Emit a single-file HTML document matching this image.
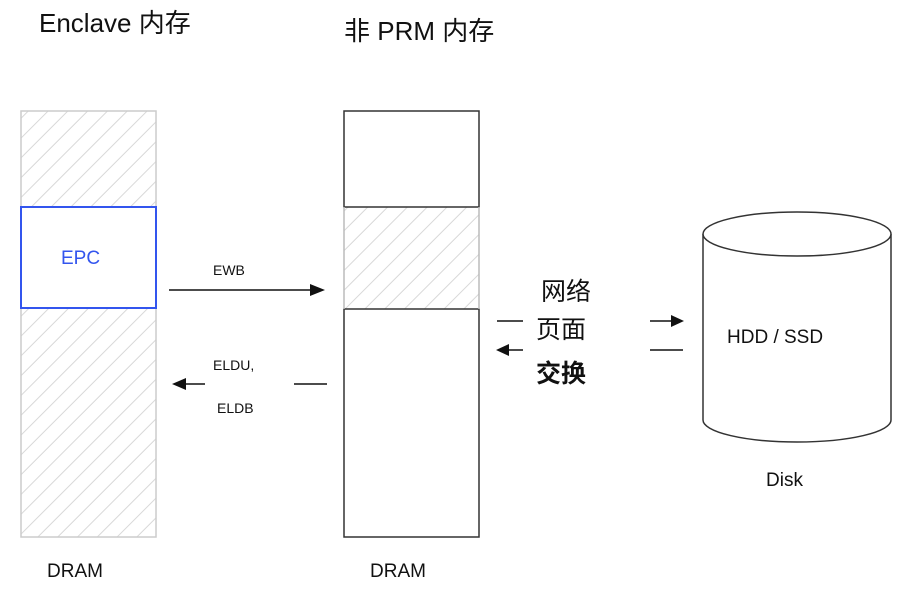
<!DOCTYPE html>
<html><head><meta charset="utf-8"><style>
html,body{margin:0;padding:0;background:#fff;}
svg{display:block;}
text{font-family:"Liberation Sans","Noto Sans CJK SC",sans-serif;fill:#111;}
</style></head><body>
<svg width="907" height="593" viewBox="0 0 907 593" xmlns="http://www.w3.org/2000/svg">
<defs>
<pattern id="h" patternUnits="userSpaceOnUse" width="14" height="14" patternTransform="rotate(45)">
<line x1="0" y1="0" x2="0" y2="14" stroke="#d8d8d8" stroke-width="2"/>
</pattern>
</defs>
<text x="39" y="32" font-size="26">Enclave  内存</text>
<text x="344" y="40" font-size="26">非 PRM 内存</text>

<rect x="21" y="111" width="135" height="426" fill="url(#h)" stroke="#cccccc" stroke-width="1.5"/>
<rect x="21" y="207" width="135" height="101" fill="#fff" stroke="#3355ee" stroke-width="2"/>
<text x="61" y="264" font-size="19" style="fill:#3355ee">EPC</text>

<rect x="344" y="207" width="135" height="102" fill="url(#h)" stroke="none"/>
<rect x="344" y="111" width="135" height="96" fill="#fff" stroke="#333" stroke-width="1.5"/>
<rect x="344" y="309" width="135" height="228" fill="#fff" stroke="#333" stroke-width="1.5"/>
<line x1="344" y1="207" x2="344" y2="309" stroke="#bbb" stroke-width="1.5"/>
<line x1="479" y1="207" x2="479" y2="309" stroke="#bbb" stroke-width="1.5"/>

<text x="213" y="275" font-size="14">EWB</text>
<line x1="169" y1="290" x2="312" y2="290" stroke="#111" stroke-width="1.5"/>
<polygon points="325,290 310,284 310,296" fill="#111"/>
<text x="213" y="370" font-size="14">ELDU,</text>
<text x="217" y="413" font-size="14">ELDB</text>
<polygon points="172,384 186,378 186,390" fill="#111"/>
<line x1="185" y1="384" x2="205" y2="384" stroke="#111" stroke-width="1.5"/>
<line x1="294" y1="384" x2="327" y2="384" stroke="#111" stroke-width="1.5"/>

<text x="541" y="300" font-size="25">网络</text>
<text x="536" y="338" font-size="25">页面</text>
<text x="536" y="382" font-size="25" font-weight="bold">交换</text>
<line x1="497" y1="321" x2="523" y2="321" stroke="#111" stroke-width="1.5"/>
<polygon points="496,350 509,344 509,356" fill="#111"/>
<line x1="508" y1="350" x2="523" y2="350" stroke="#111" stroke-width="1.5"/>
<line x1="650" y1="321" x2="672" y2="321" stroke="#111" stroke-width="1.5"/>
<polygon points="684,321 671,315 671,327" fill="#111"/>
<line x1="650" y1="350" x2="683" y2="350" stroke="#111" stroke-width="1.5"/>

<path d="M703,234 L703,420 A94,22 0 0 0 891,420 L891,234" fill="#fff" stroke="#333" stroke-width="1.5"/>
<ellipse cx="797" cy="234" rx="94" ry="22" fill="#fff" stroke="#333" stroke-width="1.5"/>
<text x="727" y="343" font-size="19">HDD / SSD</text>
<text x="766" y="486" font-size="19">Disk</text>

<text x="47" y="577" font-size="19">DRAM</text>
<text x="370" y="577" font-size="19">DRAM</text>
</svg>
</body></html>
